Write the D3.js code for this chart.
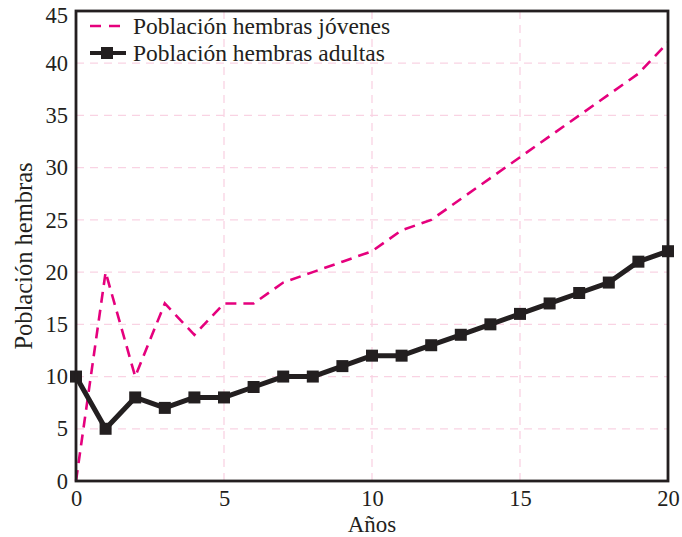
<!DOCTYPE html>
<html>
<head>
<meta charset="utf-8">
<script src="https://cdn.jsdelivr.net/npm/d3@7"></script>
<style>
  body { margin: 0; background: #fff; }
  text { font-family: "Liberation Serif", "DejaVu Serif", serif; fill: #231f20; }
</style>
</head>
<body>
<svg id="chart" width="682" height="537"></svg>
<script>
// datos
var anios = [0,1,2,3,4,5,6,7,8,9,10,11,12,13,14,15,16,17,18,19,20];
var jovenes = [0,20,10,17,14,17,17,19,20,21,22,24,25,27,29,31,33,35,37,39,42];
var adultas = [10,5,8,7,8,8,9,10,10,11,12,12,13,14,15,16,17,18,19,21,22];
var xTicks = [0,5,10,15,20];
var yTicks = [0,5,10,15,20,25,30,35,40,45];

var svg = d3.select("#chart");
var mLeft = 76, mRight = 668, mTop = 11, mBottom = 481;

var x = d3.scaleLinear().domain([0,20]).range([mLeft, mRight]);
var y = d3.scaleLinear().domain([0,45]).range([mBottom, mTop]);

// grid
svg.append("g").selectAll("line")
    .data(xTicks.slice(1, -1))
    .enter().append("line")
    .attr("x1", d => x(d)).attr("x2", d => x(d))
    .attr("y1", mTop).attr("y2", mBottom)
    .attr("stroke", "#f9d3e3").attr("stroke-width", 1.3)
    .attr("stroke-dasharray", "8,6");
svg.append("g").selectAll("line")
    .data(yTicks.slice(1, -1))
    .enter().append("line")
    .attr("x1", mLeft).attr("x2", mRight)
    .attr("y1", d => y(d)).attr("y2", d => y(d))
    .attr("stroke", "#f9d3e3").attr("stroke-width", 1.3)
    .attr("stroke-dasharray", "8,6");

// axes (only labels, no tick marks)
var axisX = d3.axisBottom(x).tickValues(xTicks).tickSize(0).tickPadding(9);
var gx = svg.append("g").attr("transform", "translate(0," + mBottom + ")").call(axisX);
gx.select(".domain").remove();
gx.selectAll("text").style("font-size", "22.5px").style("font-family", "Liberation Serif").attr("fill", "#231f20");

var axisY = d3.axisLeft(y).tickValues(yTicks).tickSize(0).tickPadding(8);
var gy = svg.append("g").attr("transform", "translate(" + mLeft + ",0)").call(axisY);
gy.select(".domain").remove();
gy.selectAll("text").style("font-size", "22.5px").style("font-family", "Liberation Serif").attr("fill", "#231f20");
gy.selectAll(".tick").filter(d => d === 45).select("text").attr("y", 4);

var line = d3.line()
    .x((d, i) => x(anios[i]))
    .y(d => y(d));

svg.append("path")
    .datum(jovenes)
    .attr("d", line)
    .attr("fill", "none")
    .attr("stroke", "#e5007d")
    .attr("stroke-width", 2.6)
    .attr("stroke-dasharray", "11,7");

svg.append("path")
    .datum(adultas)
    .attr("d", line)
    .attr("fill", "none")
    .attr("stroke", "#231f20")
    .attr("stroke-width", 5)
    .attr("stroke-linejoin", "round");

svg.selectAll("rect.m")
    .data(adultas)
    .enter().append("rect")
    .attr("class", "m")
    .attr("x", (d, i) => x(anios[i]) - 6)
    .attr("y", d => y(d) - 6)
    .attr("width", 12).attr("height", 12)
    .attr("fill", "#231f20");

// frame
svg.append("rect")
    .attr("x", mLeft).attr("y", mTop)
    .attr("width", mRight - mLeft).attr("height", mBottom - mTop)
    .attr("fill", "none").attr("stroke", "#231f20").attr("stroke-width", 2.8);

// legend
svg.append("line").attr("x1", 90).attr("x2", 126).attr("y1", 26).attr("y2", 26)
    .attr("stroke", "#e5007d").attr("stroke-width", 2.6).attr("stroke-dasharray", "11,8");
svg.append("text").attr("x", 133).attr("y", 34).style("font-size", "23.5px")
    .text("Población hembras jóvenes");
svg.append("line").attr("x1", 90).attr("x2", 126).attr("y1", 53).attr("y2", 53)
    .attr("stroke", "#231f20").attr("stroke-width", 4);
svg.append("rect").attr("x", 101).attr("y", 47).attr("width", 12).attr("height", 12)
    .attr("fill", "#231f20");
svg.append("text").attr("x", 133).attr("y", 61).style("font-size", "23.5px")
    .text("Población hembras adultas");

// axis titles
svg.append("text").attr("x", (mLeft + mRight) / 2).attr("y", 532)
    .attr("text-anchor", "middle").style("font-size", "23px").text("Años");
svg.append("text")
    .attr("transform", "translate(32,256) rotate(-90)")
    .attr("text-anchor", "middle").style("font-size", "24.5px").text("Población hembras");
</script>
</body>
</html>
